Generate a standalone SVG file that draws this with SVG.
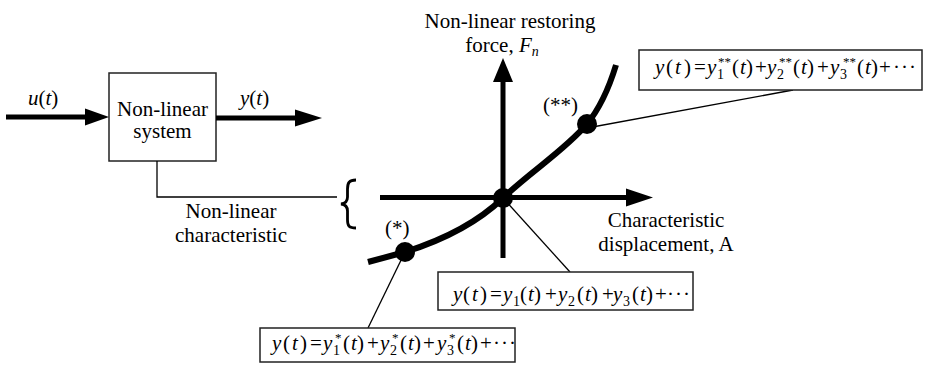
<svg xmlns="http://www.w3.org/2000/svg" width="930" height="365" viewBox="0 0 930 365">
<style>
text{font-family:"Liberation Serif","Times New Roman",serif;font-size:21px;fill:#000}
.it{font-style:italic}
.sub{font-size:14px}
.sup{font-size:13px}
.box{fill:#fff;stroke:#222;stroke-width:1.5}
.thin{fill:none;stroke:#000;stroke-width:1.3}
.thick{fill:none;stroke:#000;stroke-width:5}
.head{fill:#000}
.dot{fill:#000}
.dots{letter-spacing:1px}
</style>
<rect width="930" height="365" fill="#fff"/>

<g id="system">
<rect class="box" x="109" y="73" width="107" height="88"/>
<text x="162.5" y="116" text-anchor="middle">Non-linear</text>
<text x="162.5" y="138" text-anchor="middle">system</text>
</g>
<g id="label-u"><text x="28" y="105"><tspan class="it">u</tspan>(<tspan class="it">t</tspan>)</text></g>
<g id="label-y"><text x="240" y="105"><tspan class="it">y</tspan>(<tspan class="it">t</tspan>)</text></g>
<g id="label-char">
<text x="231" y="218" text-anchor="middle">Non-linear</text>
<text x="231" y="242" text-anchor="middle">characteristic</text>
</g>
<g id="brace">
<path d="M356,180 C349,180 347.5,183 347.5,189 L347.5,197 C347.5,201 345,203.5 341,204 C345,204.5 347.5,207 347.5,211 L347.5,220 C347.5,226 349,228 356,228" fill="none" stroke="#000" stroke-width="2.8"/>
</g>

<g id="axes">
<line class="thick" x1="503" y1="258" x2="503" y2="80"/>
<polygon class="head" points="493,82 503,58 513,82"/>
<line class="thick" x1="380" y1="197.5" x2="628" y2="197.5"/>
<polygon class="head" points="626,188.5 653,197.5 626,206.5"/>
<text x="510" y="28" text-anchor="middle">Non-linear restoring</text>
<text x="502" y="52" text-anchor="middle">force, <tspan class="it">F</tspan><tspan class="it sub" dy="4">n</tspan></text>
<text x="666" y="227" text-anchor="middle">Characteristic</text>
<text x="666" y="251" text-anchor="middle">displacement, A</text>
</g>

<g id="curve">
<path d="M368,262 L405,252 C440,241 475,225 503,198 C530,172 565,150 587,124 C600,108 609,88 616,65" fill="none" stroke="#000" stroke-width="6"/>
</g>
<g id="point-origin"><circle class="dot" cx="503" cy="198" r="10"/></g>
<g id="point-star"><circle class="dot" cx="405" cy="252" r="10"/><text x="385" y="235">(*)</text></g>
<g id="point-dstar"><circle class="dot" cx="587" cy="124" r="10"/><text x="543" y="112">(**)</text></g>

<g id="connectors">
<line class="thick" x1="6" y1="117" x2="88" y2="117"/>
<polygon class="head" points="85,108.5 109,117 85,125.5"/>
<line class="thick" x1="216" y1="118" x2="298" y2="118"/>
<polygon class="head" points="295,109.5 322,118 295,126.5"/>
<polyline class="thin" points="157,161 157,197 337,197" stroke-width="1.5"/>
<line class="thin" x1="503" y1="198" x2="570" y2="272"/>
<line class="thin" x1="587" y1="128" x2="793" y2="90"/>
<line class="thin" x1="405" y1="252" x2="368" y2="328"/>
</g>

<g id="eq-dstar">
<rect class="box" x="639" y="50" width="283" height="40"/>
<text><tspan class="it" x="655" y="74">y</tspan><tspan x="666" y="74">(</tspan><tspan class="it" x="675" y="74">t</tspan><tspan x="684" y="74">)</tspan><tspan x="694" y="74">=</tspan><tspan class="it" x="707" y="74">y</tspan><tspan class="sub" x="717" y="79">1</tspan><tspan class="sup" x="718" y="66">**</tspan><tspan x="732" y="74">(</tspan><tspan class="it" x="740" y="74">t</tspan><tspan x="746" y="74">)</tspan><tspan x="755" y="74">+</tspan><tspan class="it" x="767" y="74">y</tspan><tspan class="sub" x="777" y="79">2</tspan><tspan class="sup" x="779" y="66">**</tspan><tspan x="793" y="74">(</tspan><tspan class="it" x="801" y="74">t</tspan><tspan x="807" y="74">)</tspan><tspan x="817" y="74">+</tspan><tspan class="it" x="830" y="74">y</tspan><tspan class="sub" x="840" y="79">3</tspan><tspan class="sup" x="843" y="66">**</tspan><tspan x="857" y="74">(</tspan><tspan class="it" x="865" y="74">t</tspan><tspan x="871" y="74">)</tspan><tspan x="879" y="74">+</tspan><tspan class="dots" x="893" y="74">···</tspan></text>
</g>

<g id="eq-origin">
<rect class="box" x="438" y="272" width="255" height="38"/>
<text><tspan class="it" x="453" y="301">y</tspan><tspan x="463" y="301">(</tspan><tspan class="it" x="472" y="301">t</tspan><tspan x="480" y="301">)</tspan><tspan x="490" y="301">=</tspan><tspan class="it" x="503" y="301">y</tspan><tspan class="sub" x="513" y="306">1</tspan><tspan x="520" y="301">(</tspan><tspan class="it" x="528" y="301">t</tspan><tspan x="534" y="301">)</tspan><tspan x="545" y="301">+</tspan><tspan class="it" x="558" y="301">y</tspan><tspan class="sub" x="568" y="306">2</tspan><tspan x="577" y="301">(</tspan><tspan class="it" x="585" y="301">t</tspan><tspan x="591" y="301">)</tspan><tspan x="602" y="301">+</tspan><tspan class="it" x="613" y="301">y</tspan><tspan class="sub" x="623" y="306">3</tspan><tspan x="632" y="301">(</tspan><tspan class="it" x="640" y="301">t</tspan><tspan x="646" y="301">)</tspan><tspan x="655" y="301">+</tspan><tspan class="dots" x="667" y="301">···</tspan></text>
</g>

<g id="eq-star">
<rect class="box" x="260" y="328" width="255" height="34"/>
<text><tspan class="it" x="272" y="350">y</tspan><tspan x="283" y="350">(</tspan><tspan class="it" x="292" y="350">t</tspan><tspan x="300" y="350">)</tspan><tspan x="310" y="350">=</tspan><tspan class="it" x="323" y="350">y</tspan><tspan class="sub" x="333" y="355">1</tspan><tspan class="sup" x="335" y="342">*</tspan><tspan x="343" y="350">(</tspan><tspan class="it" x="351" y="350">t</tspan><tspan x="357" y="350">)</tspan><tspan x="367" y="350">+</tspan><tspan class="it" x="380" y="350">y</tspan><tspan class="sub" x="390" y="355">2</tspan><tspan class="sup" x="392" y="342">*</tspan><tspan x="400" y="350">(</tspan><tspan class="it" x="408" y="350">t</tspan><tspan x="414" y="350">)</tspan><tspan x="423" y="350">+</tspan><tspan class="it" x="437" y="350">y</tspan><tspan class="sub" x="447" y="355">3</tspan><tspan class="sup" x="449" y="342">*</tspan><tspan x="457" y="350">(</tspan><tspan class="it" x="465" y="350">t</tspan><tspan x="471" y="350">)</tspan><tspan x="480" y="350">+</tspan><tspan class="dots" x="493" y="350">···</tspan></text>
</g>
</svg>
